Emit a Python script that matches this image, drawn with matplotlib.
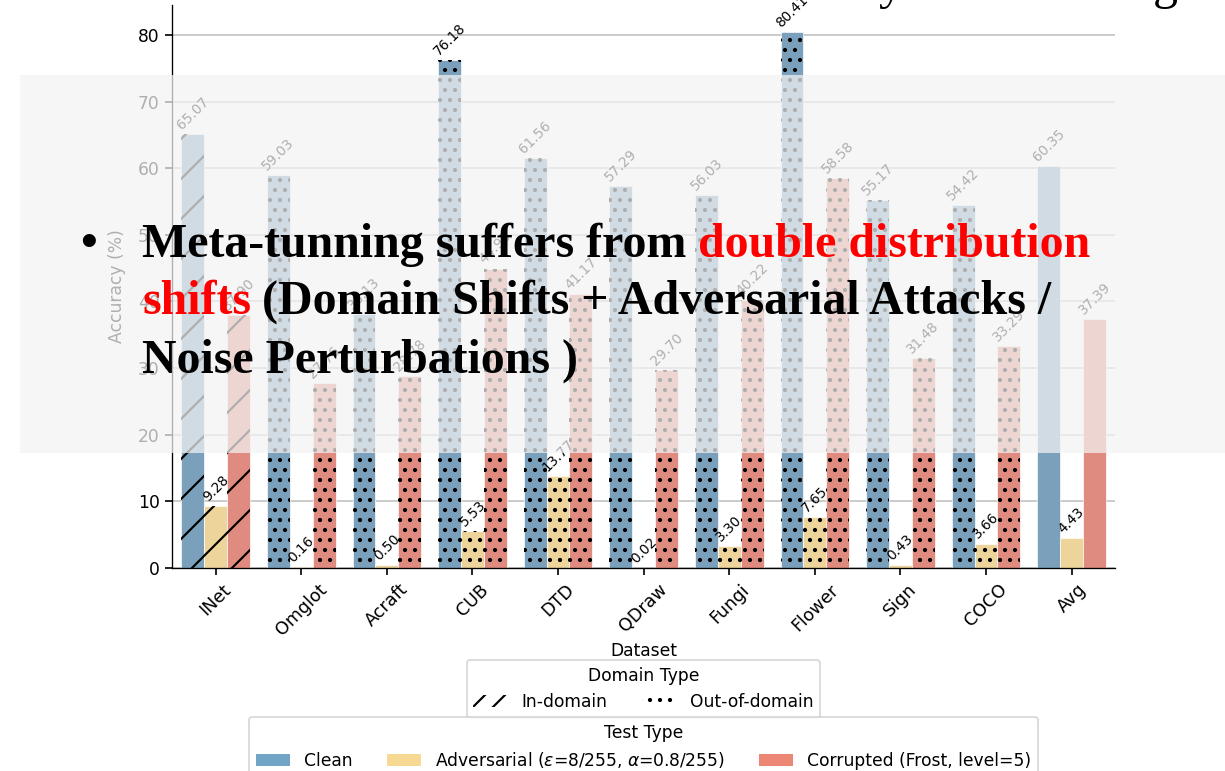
import matplotlib
matplotlib.use("Agg")
import matplotlib.pyplot as plt
from matplotlib.patches import Patch, Rectangle
import numpy as np

# ---------------- data ----------------
datasets = ['INet', 'Omglot', 'Acraft', 'CUB', 'DTD', 'QDraw', 'Fungi', 'Flower', 'Sign', 'COCO', 'Avg']
clean = [65.07, 59.03, 38.13, 76.18, 61.56, 57.29, 56.03, 80.41, 55.17, 54.42, 60.35]
adversarial = [9.28, 0.16, 0.50, 5.53, 13.77, 0.02, 3.30, 7.65, 0.43, 3.66, 4.43]
corrupted = [37.90, 27.76, 28.78, 44.95, 41.17, 29.70, 40.22, 58.58, 31.48, 33.29, 37.39]
domain = ['in'] + ['out'] * 9 + ['avg']
series_names = ['Clean', r'Adversarial ($\varepsilon$=8/255, $\alpha$=0.8/255)', 'Corrupted (Frost, level=5)']
yticks = [0, 10, 20, 30, 40, 50, 60, 70, 80]

bar_colors = ['#7aa0bb', '#ecd49b', '#e08b7f']
legend_colors = ['#72a4c8', '#f7d993', '#ee8676']

W, H, DPI = 1225, 771, 120
fig = plt.figure(figsize=(W / DPI, H / DPI), dpi=DPI)
plt.rcParams['hatch.linewidth'] = 1.3

ax = fig.add_axes([172 / W, 1 - 568 / H, (1115 - 172) / W, (568 - 5) / H])

x = np.arange(len(datasets))
bw = 0.2667
hatch_map = {'in': '/', 'out': '..', 'avg': ''}
for k, vals in enumerate([clean, adversarial, corrupted]):
    xs = x + (k - 1) * bw
    ax.bar(xs, vals, width=bw, color=bar_colors[k], edgecolor='white', linewidth=0.4, zorder=2)
    for xi, v, d in zip(xs, vals, domain):
        h = hatch_map[d]
        if h:
            ax.bar(xi, v, width=bw, facecolor='none', edgecolor='black', linewidth=0, hatch=h, zorder=3)
        ax.text(xi, v + 0.3, f'{v:.2f}', ha='center', va='bottom', rotation=45,
                fontsize=8.2, color='black', zorder=4)

ax.set_xlim(-0.51, 10.506)
ax.set_ylim(0, 84.5)
ax.set_xticks(x)
ax.set_xticklabels(datasets, rotation=45, fontsize=10.5)
ax.set_yticks(yticks)
ax.set_yticklabels([str(t) for t in yticks], fontsize=10.3)
ax.tick_params(length=4, width=1, color='black')
ax.yaxis.grid(True, color='#cccccc', linewidth=1.2, zorder=0)
ax.set_axisbelow(True)
for s in ['top', 'right']:
    ax.spines[s].set_visible(False)
ax.set_ylabel('Accuracy (%)', fontsize=10.3, labelpad=7)
ax.set_xlabel('Dataset', fontsize=10.3)
ax.xaxis.set_label_coords(0.5, (568 - 642) / 563)

dom_handles = [Patch(facecolor='white', edgecolor='black', hatch='//', linewidth=0),
               Patch(facecolor='white', edgecolor='black', hatch='..', linewidth=0)]
leg1 = ax.legend(dom_handles, ['In-domain', 'Out-of-domain'], title='Domain Type', ncol=2,
                 loc='upper center', bbox_to_anchor=(0.5, (568 - 660) / 563), borderaxespad=0,
                 fontsize=10.3, title_fontsize=10.3, columnspacing=2.0)
ax.add_artist(leg1)
test_handles = [Patch(facecolor=c) for c in legend_colors]
ax.legend(test_handles, series_names, title='Test Type', ncol=3,
          loc='upper center', bbox_to_anchor=(0.5, (568 - 717) / 563), borderaxespad=0,
          fontsize=10.3, title_fontsize=10.3, columnspacing=2.0)

# ---------------- slide overlay ----------------
ov = Rectangle((20 / W, 1 - 453 / H), (W - 20) / W + 0.01, (453 - 75) / H,
               transform=fig.transFigure, facecolor='#f3f3f3', alpha=0.72,
               edgecolor='none', zorder=10)
fig.add_artist(ov)

serif = 'Liberation Serif'
fs = 28.7
def ftxt(px, py, s, color='black', **kw):
    fig.text(px / W, 1 - py / H, s, color=color, fontsize=fs, fontfamily=serif,
             fontweight='bold', va='baseline', ha='left', zorder=11, **kw)

fig.text(80 / W, 1 - 256 / H, '\u2022', fontsize=fs, fontfamily='Liberation Sans',
         color='black', va='baseline', ha='left', zorder=11)
ftxt(142, 257, 'Meta-tunning suffers from')
ftxt(698, 257, 'double distribution', color='red')
ftxt(142, 314, 'shifts', color='red')
ftxt(262, 314, '(Domain Shifts + Adversarial Attacks /')
ftxt(142, 373, 'Noise Perturbations )')

# fragments of slide title cut at the top
fig.text(878 / W, 1.0 + 2 / H, 'y', fontsize=30, fontfamily=serif, color='black', va='baseline', ha='left', zorder=11)
fig.text(1153 / W, 1.0 + 2 / H, 'g', fontsize=30, fontfamily=serif, color='black', va='baseline', ha='left', zorder=11)

fig.savefig('out.png', dpi=DPI)
